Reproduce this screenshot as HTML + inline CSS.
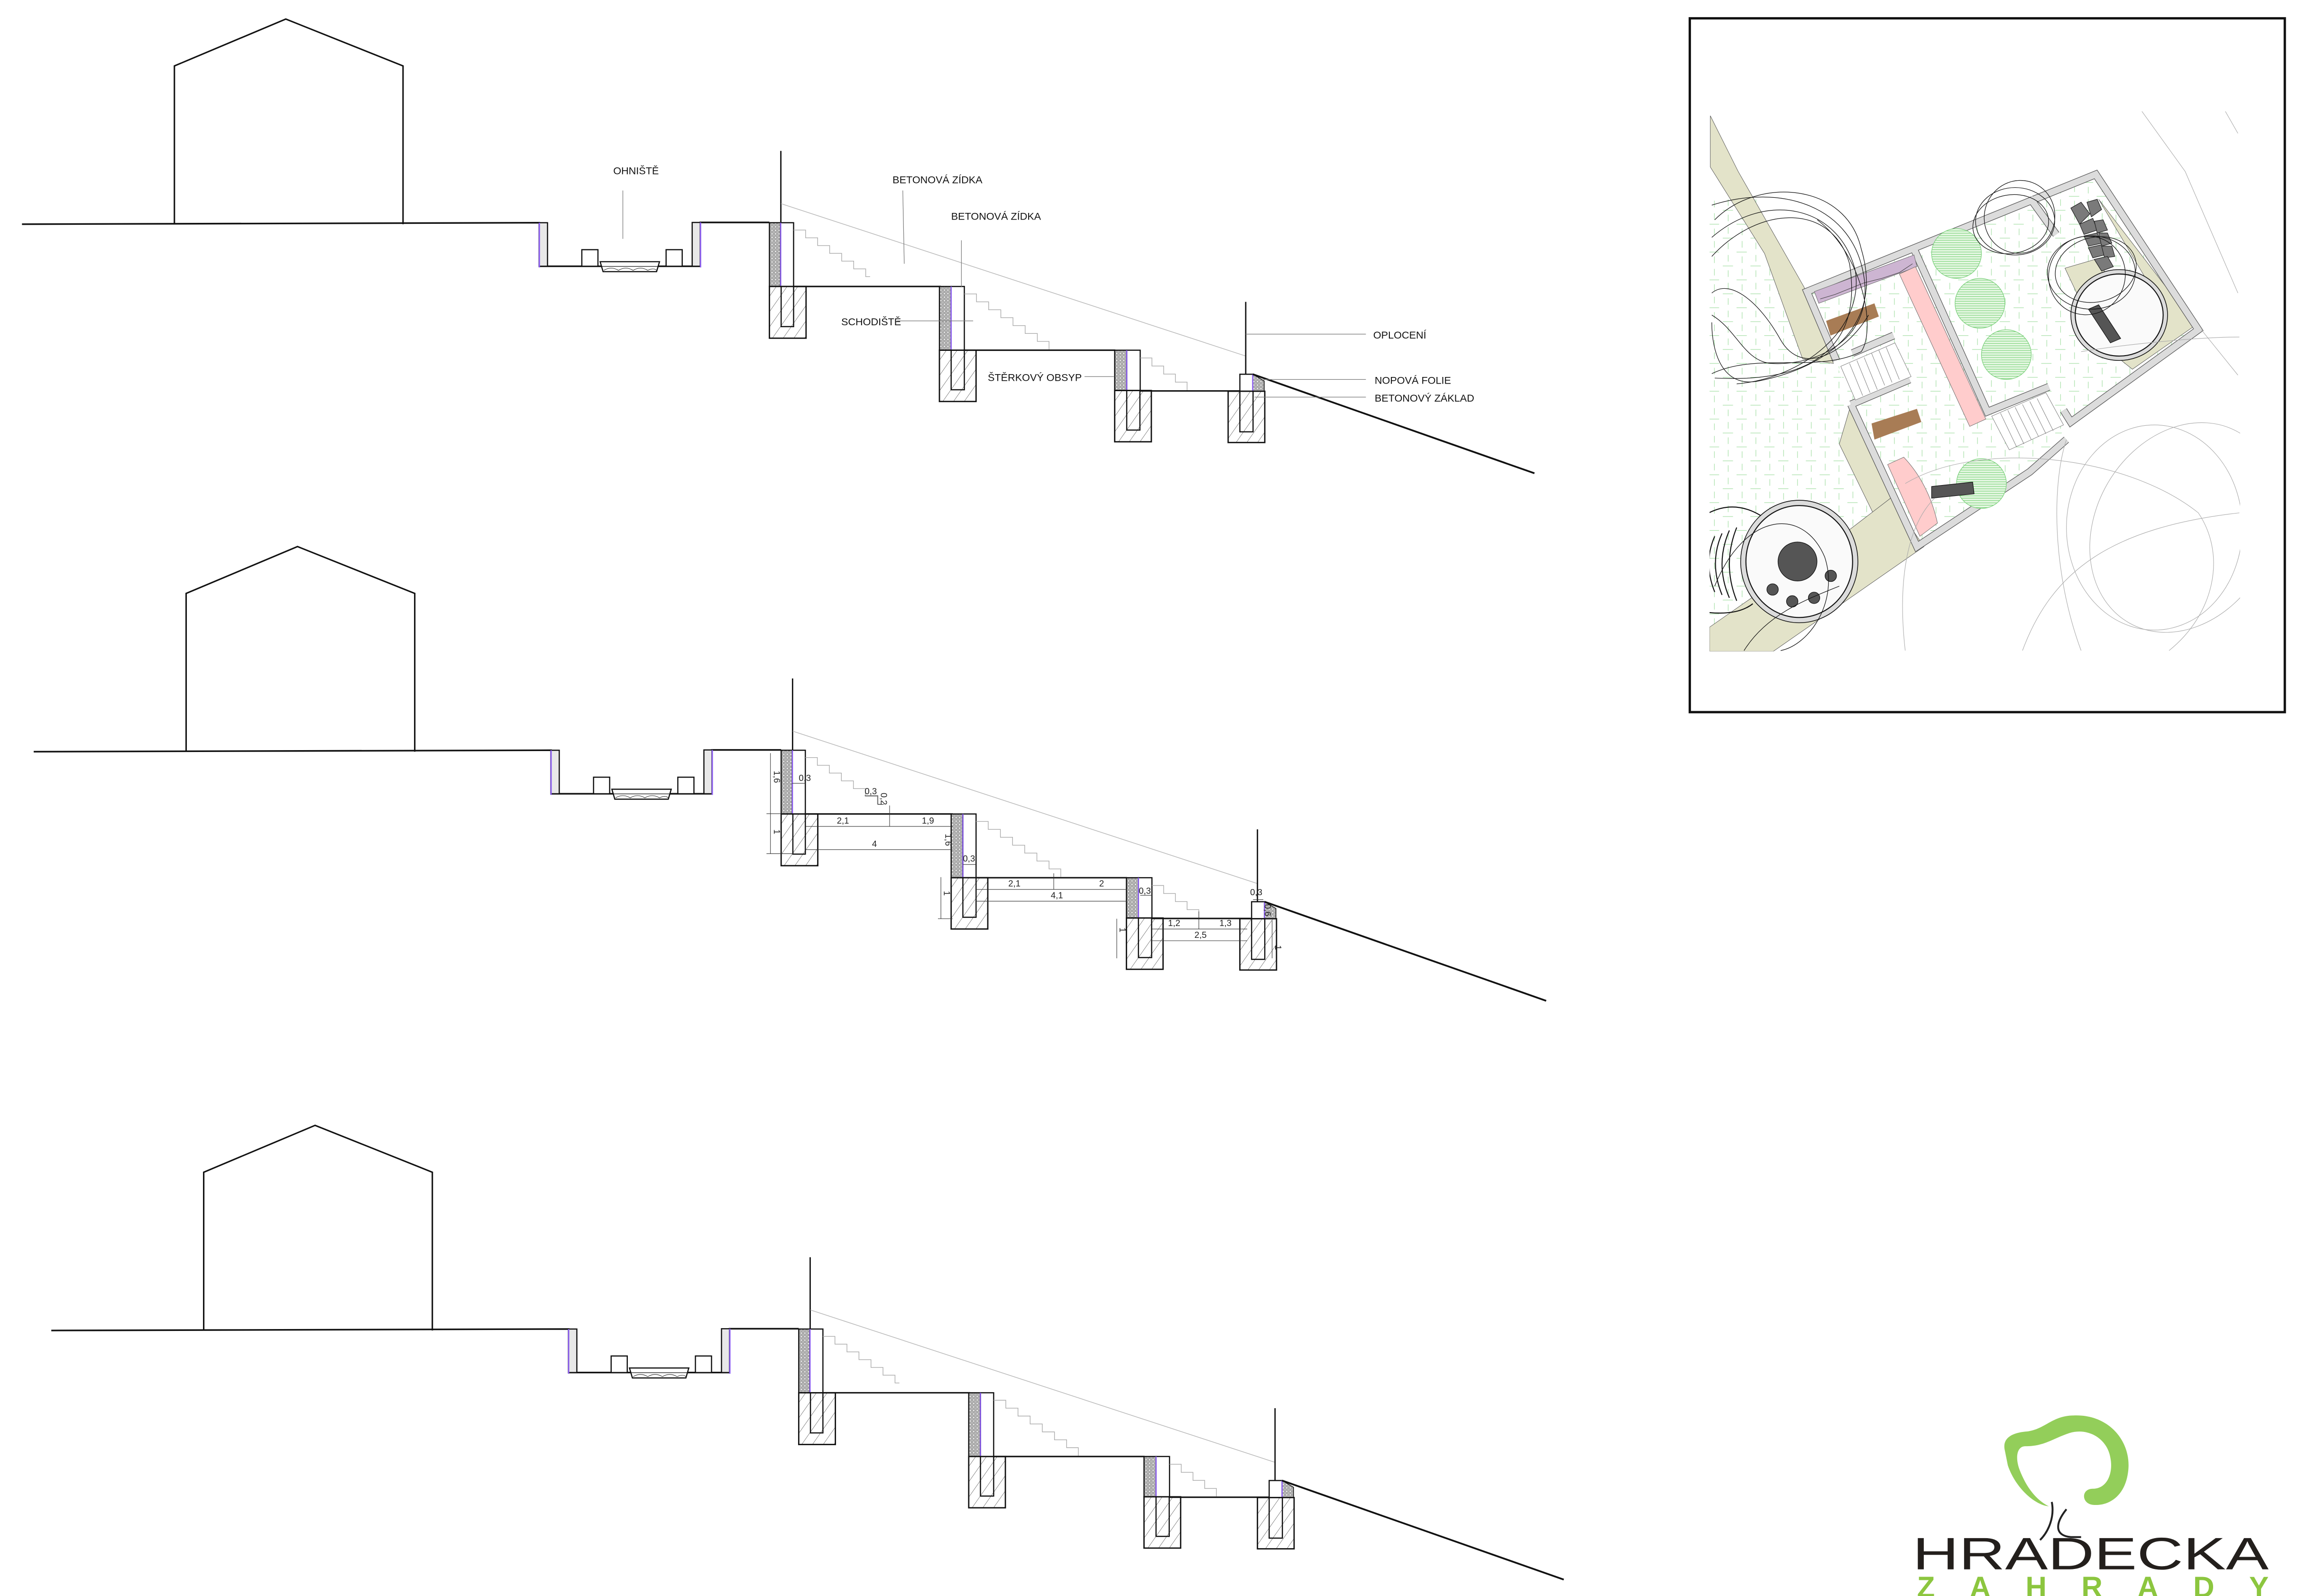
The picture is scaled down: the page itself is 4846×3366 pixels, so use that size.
<!DOCTYPE html>
<html><head><meta charset="utf-8"><style>
html,body{margin:0;padding:0;background:#fff}
svg{display:block}
text{font-family:"Liberation Sans Narrow","Liberation Sans",sans-serif}
</style></head><body>
<svg width="4846" height="3366" viewBox="0 0 1568 1089.2" preserveAspectRatio="none" xmlns="http://www.w3.org/2000/svg">
<defs>
<pattern id="hatch" width="6" height="6" patternUnits="userSpaceOnUse" patternTransform="rotate(35)">
<line x1="0" y1="0" x2="0" y2="6" stroke="#222" stroke-width="0.35"/>
</pattern>
<pattern id="grav" width="2.4" height="2.4" patternUnits="userSpaceOnUse">
<rect width="2.4" height="2.4" fill="#b8b8b8"/>
<circle cx="1.2" cy="1.2" r="0.75" fill="#e8e8e8" stroke="#666" stroke-width="0.25"/>
</pattern>
<pattern id="pav" width="18.9" height="19" patternUnits="userSpaceOnUse" x="1166" y="76">
<g stroke="#a8e0a8" stroke-width="0.4">
<line x1="0" y1="1" x2="7" y2="1"/><line x1="9.5" y1="10.5" x2="16.5" y2="10.5"/>
<line x1="3.8" y1="4" x2="3.8" y2="8.5"/><line x1="13.2" y1="13.5" x2="13.2" y2="18"/>
<line x1="13.2" y1="3" x2="13.2" y2="7.5"/><line x1="3.8" y1="12.5" x2="3.8" y2="17"/>
</g>
</pattern>
<pattern id="tree" width="1.6" height="1.6" patternUnits="userSpaceOnUse">
<rect width="1.6" height="1.6" fill="#e6f7e3"/><line x1="0" y1="0.8" x2="1.6" y2="0.8" stroke="#6fcf6f" stroke-width="0.35"/>
</pattern>
<clipPath id="plan"><rect x="1166.5" y="76" width="362" height="368.5"/></clipPath>

<g id="sec" fill="none" stroke="#111">
<polyline points="119,153 119,45 195,13 275,45 275,153" stroke-width="1"/>
<polyline points="15,153 368,152 368,181.7 477.8,181.7 477.8,151.8 525,151.8" stroke-width="1.1"/>
<rect x="368" y="152" width="5.6" height="29.7" fill="#e8e8e8" stroke-width="0.8"/>
<rect x="472.3" y="151.8" width="5.5" height="29.9" fill="#e8e8e8" stroke-width="0.8"/>
<line x1="368" y1="152" x2="368" y2="182.5" stroke="#8a5cf0" stroke-width="0.9"/>
<line x1="478" y1="151.8" x2="478" y2="182.5" stroke="#8a5cf0" stroke-width="0.9"/>
<rect x="397" y="170.4" width="11" height="11.3" fill="#fff" stroke-width="0.8"/>
<rect x="454.5" y="170.4" width="11" height="11.3" fill="#fff" stroke-width="0.8"/>
<polygon points="409.5,178.6 450,178.6 448,185.4 411.5,185.4" fill="#fff" stroke-width="0.8"/>
<line x1="410" y1="181.8" x2="449.5" y2="181.8" stroke-width="0.4"/>
<path d="M412,184.5 q5,-3 10,0 q5,-3 10,0 q5,-3 10,0 q4,-2 6,0" stroke-width="0.3"/>
<line x1="532.8" y1="103" x2="532.8" y2="152" stroke-width="0.9"/>
<line x1="533" y1="139" x2="850" y2="243" stroke="#bbb" stroke-width="0.5"/>
<rect x="525" y="152" width="7.6" height="43.5" fill="url(#grav)" stroke-width="0.8"/>
<rect x="532.6" y="152" width="8.9" height="43.5" fill="#fff" stroke-width="0.8"/>
<line x1="532.7" y1="152" x2="532.7" y2="196" stroke="#8a5cf0" stroke-width="0.8"/>
<rect x="525" y="195.5" width="25" height="35.3" fill="url(#hatch)" stroke-width="0.9"/>
<rect x="533" y="195.5" width="8.5" height="27.4" fill="none" stroke-width="0.8"/>
<line x1="541.5" y1="195.5" x2="642" y2="195.5" stroke-width="1"/>
<path d="M541.5,157 h8.2 v5.3 h8.2 v5.3 h8.2 v5.3 h8.2 v5.3 h8.2 v5.3 h8.2 v5.3 h3" stroke="#aaa" stroke-width="0.45"/>
<rect x="641" y="195.5" width="8" height="43.5" fill="url(#grav)" stroke-width="0.8"/>
<rect x="649" y="195.5" width="9" height="43.5" fill="#fff" stroke-width="0.8"/>
<line x1="649" y1="195.5" x2="649" y2="239.5" stroke="#8a5cf0" stroke-width="0.8"/>
<rect x="641" y="239" width="25" height="35" fill="url(#hatch)" stroke-width="0.9"/>
<rect x="649" y="239" width="9" height="27" fill="none" stroke-width="0.8"/>
<line x1="658" y1="239" x2="761" y2="239" stroke-width="1"/>
<path d="M658,200.6 h8.3 v5.4 h8.3 v5.4 h8.3 v5.4 h8.3 v5.4 h8.3 v5.4 h8.3 v5.4 h8 v5.4" stroke="#aaa" stroke-width="0.45"/>
<rect x="760.6" y="239" width="8.2" height="27.5" fill="url(#grav)" stroke-width="0.8"/>
<rect x="768.8" y="239" width="9.2" height="27.5" fill="#fff" stroke-width="0.8"/>
<line x1="768.8" y1="239" x2="768.8" y2="267" stroke="#8a5cf0" stroke-width="0.8"/>
<rect x="760.6" y="266.5" width="25" height="35" fill="url(#hatch)" stroke-width="0.9"/>
<rect x="768.8" y="266.5" width="9" height="27" fill="none" stroke-width="0.8"/>
<line x1="778" y1="266.8" x2="846" y2="266.8" stroke-width="1"/>
<path d="M778,244.3 h8 v5.5 h8 v5.5 h8 v5.5 h8 v5.5" stroke="#aaa" stroke-width="0.45"/>
<line x1="850" y1="206" x2="850" y2="255.4" stroke-width="0.9"/>
<rect x="846" y="255.4" width="8.8" height="11.6" fill="#fff" stroke-width="0.8"/>
<polygon points="854.8,255.4 862.6,260 862.6,267 854.8,267" fill="url(#grav)" stroke-width="0.5"/>
<line x1="854.8" y1="255.4" x2="854.8" y2="267.5" stroke="#8a5cf0" stroke-width="0.8"/>
<rect x="838" y="267" width="25" height="35" fill="url(#hatch)" stroke-width="0.9"/>
<rect x="846" y="267" width="9" height="27.7" fill="none" stroke-width="0.8"/>
<line x1="854.8" y1="255.4" x2="1047" y2="323" stroke-width="1.2"/>
</g>
</defs>

<use href="#sec"/>
<use href="#sec" transform="translate(8,360)"/>
<use href="#sec" transform="translate(20,755)"/>

<g font-size="7" fill="#111" stroke="none">
<text x="434" y="119" text-anchor="middle">OHNIŠTĚ</text>
<text x="609" y="125">BETONOVÁ ZÍDKA</text>
<text x="649" y="150">BETONOVÁ ZÍDKA</text>
<text x="574" y="222">SCHODIŠTĚ</text>
<text x="674" y="260">ŠTĚRKOVÝ OBSYP</text>
<text x="937" y="231">OPLOCENÍ</text>
<text x="938" y="262">NOPOVÁ FOLIE</text>
<text x="938" y="274">BETONOVÝ ZÁKLAD</text>
</g>
<g stroke="#777" stroke-width="0.4">
<line x1="425" y1="130" x2="425" y2="163"/>
<line x1="616" y1="130" x2="617" y2="180"/>
<line x1="656" y1="164" x2="656" y2="196"/>
<line x1="612" y1="219" x2="664" y2="219"/>
<line x1="740" y1="257" x2="760" y2="257"/>
<line x1="850" y1="228" x2="932" y2="228"/>
<line x1="862" y1="259" x2="932" y2="259"/>
<line x1="856" y1="271" x2="932" y2="271"/>
</g>

<g stroke="#333" stroke-width="0.35" fill="none">
<line x1="525.7" y1="514" x2="525.7" y2="582.6"/>
<line x1="523" y1="555.3" x2="533" y2="555.3"/>
<line x1="523" y1="582.6" x2="541" y2="582.6"/>
<line x1="540.5" y1="534.6" x2="549.6" y2="534.6"/>
<line x1="549.6" y1="564" x2="650" y2="564"/>
<line x1="549.6" y1="579.8" x2="650" y2="579.8"/>
<line x1="607" y1="549.7" x2="607" y2="564"/>
<polyline points="590,543 599,543 599,549 603,549" />
<line x1="657" y1="590" x2="666" y2="590"/>
<line x1="642" y1="598.6" x2="642" y2="627"/>
<line x1="640" y1="627" x2="650" y2="627"/>
<line x1="666" y1="607" x2="769" y2="607"/>
<line x1="666" y1="615" x2="769" y2="615"/>
<line x1="719" y1="596" x2="719" y2="607"/>
<line x1="778" y1="611" x2="786" y2="611"/>
<line x1="762" y1="627" x2="762" y2="654"/>
<line x1="786" y1="634" x2="851" y2="634"/>
<line x1="786" y1="642" x2="851" y2="642"/>
<line x1="818" y1="622" x2="818" y2="634"/>
<line x1="855" y1="614" x2="862" y2="614"/>
<line x1="868" y1="628" x2="868" y2="654"/>
</g>
<g fill="#222" font-size="6" style="font-family:'Liberation Sans',sans-serif">
<text x="545" y="533">0,3</text>
<text transform="translate(528,526) rotate(90)">1,6</text>
<text transform="translate(528,566) rotate(90)">1</text>
<text x="590" y="542">0,3</text>
<text transform="translate(601,541) rotate(90)">0,2</text>
<text x="571" y="562">2,1</text>
<text x="629" y="562">1,9</text>
<text x="595" y="578">4</text>
<text transform="translate(645,569) rotate(90)">1,6</text>
<text x="657" y="588">0,3</text>
<text transform="translate(644,608) rotate(90)">1</text>
<text x="688" y="605">2,1</text>
<text x="750" y="605">2</text>
<text x="717" y="613">4,1</text>
<text x="777" y="610">0,3</text>
<text x="797" y="632">1,2</text>
<text x="832" y="632">1,3</text>
<text x="815" y="640">2,5</text>
<text x="853" y="611">0,3</text>
<text transform="translate(863,617) rotate(90)">0,6</text>
<text transform="translate(764,633) rotate(90)">1</text>
<text transform="translate(870,645) rotate(90)">1</text>
</g>

<rect x="1153" y="12.5" width="406" height="473.5" fill="#fff" stroke="#111" stroke-width="1.6"/>
<g clip-path="url(#plan)">
<rect x="1166" y="76" width="363" height="369" fill="#fff"/>
<polygon points="1166,136 1200,136 1230,245 1253,248 1263,276 1290,340 1210,444 1166,444" fill="url(#pav)"/>
<polygon points="1233,199 1430,119 1500,225 1413,288 1385,322 1308,373 1263,276 1253,246" fill="url(#pav)"/>
<polygon points="1167,79 1186,117 1231,196 1251,248 1230,245 1204,173 1167,114" fill="#e3e3c9" stroke="#555" stroke-width="0.3"/>
<polygon points="1255,303 1263,276 1290,340 1278,350" fill="#e3e3c9" stroke="#555" stroke-width="0.3"/>
<polygon points="1166.5,428 1262.6,361 1290,340 1312.8,373 1210,444.5 1166.5,444.5" fill="#e3e3c9" stroke="#555" stroke-width="0.3"/>
<polygon points="1432,136 1498,222 1455,252 1445,244 1470,200" fill="#e3e3c9" stroke="#555" stroke-width="0.3"/>
<polygon points="1409,183 1433,176 1440,198 1417,200" fill="#e3e3c9" stroke="#555" stroke-width="0.3"/>
<g fill="none" stroke-linejoin="miter">
<g stroke="#555" stroke-width="5.2">
<polyline points="1253,246 1233,199 1430,119 1500,225 1413,288 1408,280"/>
<polyline points="1306,170 1356,281 1398,264"/>
<polyline points="1292,229 1264,241"/>
<polyline points="1263,276 1303,259"/>
<polyline points="1263,276 1308,373 1385,322 1410,300"/>
<polyline points="1385,135 1403,160"/>
</g>
<g stroke="#dcdcdc" stroke-width="4.4">
<polyline points="1253,246 1233,199 1430,119 1500,225 1413,288 1408,280"/>
<polyline points="1306,170 1356,281 1398,264"/>
<polyline points="1292,229 1264,241"/>
<polyline points="1263,276 1303,259"/>
<polyline points="1263,276 1308,373 1385,322 1410,300"/>
<polyline points="1385,135 1403,160"/>
</g>
</g>
<g stroke="#777" stroke-width="0.3" fill="#fff">
<polygon points="1256,250 1293,234 1304,257 1266,273"/>
<polygon points="1359,284 1396,268 1408,290 1371,307"/>
</g>
<g stroke="#777" stroke-width="0.3">
<line x1="1262" y1="248" x2="1271" y2="270"/><line x1="1267" y1="246" x2="1276" y2="268"/><line x1="1272" y1="244" x2="1281" y2="266"/><line x1="1277" y1="241" x2="1286" y2="263"/><line x1="1282" y1="239" x2="1291" y2="261"/><line x1="1287" y1="237" x2="1296" y2="259"/>
<line x1="1365" y1="282" x2="1376" y2="305"/><line x1="1370" y1="280" x2="1381" y2="303"/><line x1="1375" y1="278" x2="1386" y2="300"/><line x1="1380" y1="276" x2="1391" y2="298"/><line x1="1385" y1="274" x2="1396" y2="296"/><line x1="1390" y1="272" x2="1401" y2="294"/>
</g>
<polygon points="1238,199 1306,174 1308,182 1241,207" fill="#cdb5d2" stroke="#666" stroke-width="0.3"/>
<polyline points="1242,204 1252,201 1262,197 1272,193 1284,190 1296,186 1305,180" fill="none" stroke="#333" stroke-width="0.3"/>
<polygon points="1296,187 1307,182 1355,286 1344,291" fill="#ffcccc" stroke="#666" stroke-width="0.3"/>
<path d="M1288,317 L1299,312 Q1316,330 1322,357 L1310,366 Z" fill="#ffcccc" stroke="#666" stroke-width="0.3"/>
<polygon points="1246,219 1279,207 1282,216 1249,229" fill="#a87c55"/>
<polygon points="1277,289 1308,279 1311,288 1279,300" fill="#a87c55"/>
<g fill="url(#tree)" stroke="#7cd07c" stroke-width="0.4">
<circle cx="1335" cy="173" r="17"/><circle cx="1351" cy="207" r="17"/><circle cx="1369" cy="242" r="17"/><circle cx="1352" cy="330" r="17"/>
</g>
<polygon points="1318,332 1346,329 1347,337 1318,340" fill="#555" stroke="#111" stroke-width="0.4"/>
<ellipse cx="1446" cy="215" rx="33" ry="31" fill="#dcdcdc" stroke="#111" stroke-width="0.5"/>
<ellipse cx="1446" cy="215" rx="30" ry="28" fill="#fafafa" stroke="#111" stroke-width="0.7"/>
<polygon points="1425,211 1432,208 1447,231 1440,234" fill="#555" stroke="#111" stroke-width="0.4"/>
<g fill="#7a7a7a" stroke="#222" stroke-width="0.4">
<polygon points="1413,142 1420,138 1426,146 1419,153"/><polygon points="1424,138 1431,136 1434,143 1427,148"/>
<polygon points="1419,153 1428,149 1431,157 1422,160"/><polygon points="1429,151 1435,150 1438,157 1431,159"/>
<polygon points="1422,161 1431,159 1434,166 1425,168"/><polygon points="1432,159 1438,159 1441,166 1434,168"/>
<polygon points="1425,169 1434,167 1436,174 1428,176"/><polygon points="1434,168 1441,168 1443,175 1436,176"/>
<polygon points="1429,177 1438,175 1442,182 1434,185"/>
</g>
<g fill="none" stroke="#111" stroke-width="0.7">
<path d="M1166,350 q20,-10 40,5"/><path d="M1166,418 q20,2 30,-6"/>
<path d="M1185,360 q-10,25 0,50"/><path d="M1180,362 q-10,23 0,46"/><path d="M1175,364 q-9,20 0,42"/><path d="M1170,366 q-8,18 0,38"/>
</g>
<ellipse cx="1227.7" cy="383.2" rx="40" ry="41.8" fill="#dcdcdc" stroke="#111" stroke-width="0.5"/>
<ellipse cx="1227.7" cy="383.2" rx="36.4" ry="38.2" fill="#fafafa" stroke="#111" stroke-width="0.7"/>
<g fill="#555" stroke="#111" stroke-width="0.4">
<circle cx="1226.5" cy="383.2" r="13.3"/><circle cx="1209.5" cy="402.3" r="3.9"/><circle cx="1222.9" cy="410.4" r="3.9"/><circle cx="1237.8" cy="408" r="3.9"/><circle cx="1249.2" cy="393" r="3.9"/>
</g>
<g fill="none" stroke="#111" stroke-width="0.4">
<path d="M1170,150 C1200,120 1260,125 1270,170 C1285,220 1250,250 1200,260 C1175,265 1168,240 1168,220"/>
<path d="M1168,162 C1205,130 1255,140 1266,185 C1272,225 1230,258 1185,262"/>
<path d="M1168,175 C1200,140 1250,138 1262,180 C1270,230 1245,262 1170,258"/>
<path d="M1168,140 C1215,125 1265,140 1272,190 C1278,235 1235,250 1208,248 C1190,246 1185,225 1168,215"/>
<path d="M1168,200 C1180,190 1200,205 1215,232 C1230,258 1260,240 1275,215"/>
<path d="M1168,255 C1200,240 1240,255 1270,240 C1280,225 1272,175 1240,150"/>
<ellipse cx="1375" cy="151" rx="27" ry="23"/><ellipse cx="1378" cy="148" rx="24" ry="25" transform="rotate(20 1378 148)"/><ellipse cx="1372" cy="153" rx="26" ry="20" transform="rotate(-10 1372 153)"/>
<ellipse cx="1427" cy="186" rx="30" ry="25"/><ellipse cx="1424" cy="188" rx="26" ry="27" transform="rotate(25 1424 188)"/><ellipse cx="1430" cy="184" rx="28" ry="22" transform="rotate(-15 1430 184)"/>
<path d="M1170,400 C1190,350 1230,345 1245,380 C1255,410 1235,440 1215,444"/>
<path d="M1190,444 C1205,420 1230,410 1255,400"/>
</g>
<g fill="none" stroke="#aaa" stroke-width="0.35">
<polyline points="1432,35 1491,117 1527,200"/>
<polyline points="1494,35 1515,70 1527,91"/>
<line x1="1502" y1="225" x2="1527" y2="256"/>
<ellipse cx="1470" cy="360" rx="60" ry="70"/><ellipse cx="1490" cy="360" rx="60" ry="75" transform="rotate(30 1490 360)"/>
<path d="M1300,330 C1350,300 1450,310 1500,350 C1520,380 1510,420 1480,444"/>
<path d="M1410,300 C1400,330 1400,390 1420,444"/>
<path d="M1300,444 C1295,400 1300,360 1320,340"/>
<path d="M1420,240 C1450,235 1500,230 1528,230"/>
<path d="M1380,444 C1400,390 1440,360 1528,350"/>
</g>
</g>

<g>
<path d="M1368,990 C1366,982 1372,978 1382,977 C1395,976 1400,966 1415,966 C1440,965 1455,985 1452,1005 C1450,1020 1440,1028 1428,1027 C1420,1026 1420,1016 1428,1016 C1438,1016 1442,1005 1440,995 C1438,982 1425,974 1412,978 C1400,982 1395,987 1382,987 C1376,987 1375,995 1378,1003 C1383,1016 1390,1024 1398,1028 C1388,1027 1375,1015 1370,1000 Z" fill="#93ce5a"/>
<path d="M1400,1025 C1402,1035 1398,1045 1392,1051" fill="none" stroke="#222" stroke-width="1.3"/>
<path d="M1410,1030 C1402,1040 1402,1048 1413,1049 L1420,1049" fill="none" stroke="#222" stroke-width="1.3"/>
<text x="1305" y="1071" font-size="31" fill="#231f1c" textLength="243" lengthAdjust="spacingAndGlyphs" style="font-family:'Liberation Sans',sans-serif">HRADECKA</text>
<text x="1308" y="1090" font-size="20" font-weight="bold" fill="#8cc63f" textLength="240" lengthAdjust="spacing" style="font-family:'Liberation Sans',sans-serif">ZAHRADY</text>
</g>
</svg>
</body></html>
